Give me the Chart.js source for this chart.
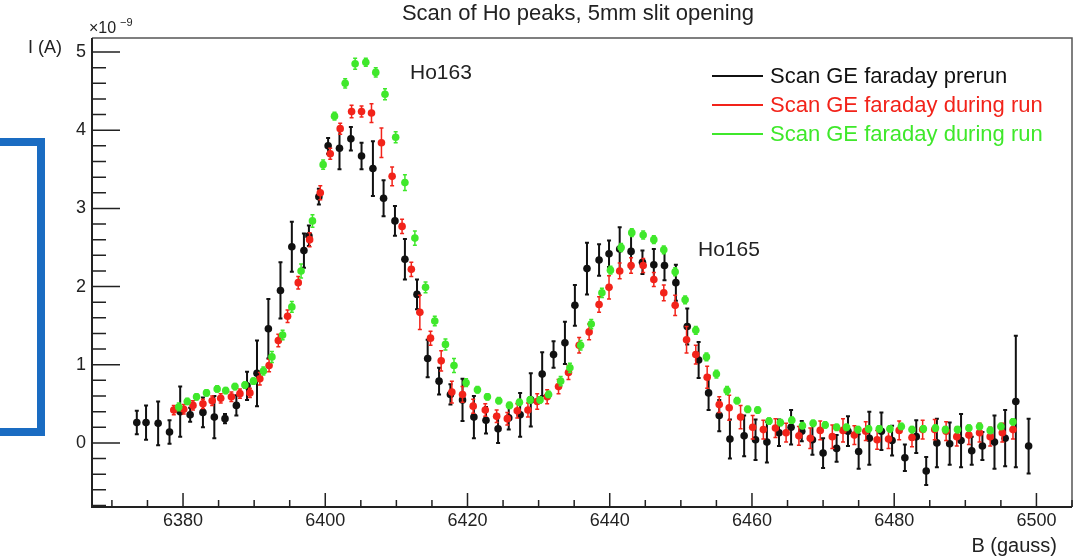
<!DOCTYPE html>
<html>
<head>
<meta charset="utf-8">
<script src="https://cdn.jsdelivr.net/npm/chart.js@4/dist/chart.umd.min.js"></script>
<style>
  html, body { margin: 0; padding: 0; background: #fff; }
</style>
</head>
<body>
<canvas id="scanChart" width="1081" height="558"></canvas>
<script>
// B field (gauss) and current (x1e-9 A)
const blackB = [6373.5, 6374.8, 6376.5, 6378.1, 6379.6, 6381.0, 6382.8, 6384.4, 6385.9, 6387.5,
  6389.0, 6390.4, 6392.0, 6393.7, 6395.3, 6397.0, 6397.7, 6399.1, 6400.4, 6402.0,
  6403.6, 6405.1, 6406.7, 6408.2, 6409.8, 6411.2, 6412.9, 6414.4, 6416.0, 6417.6,
  6419.3, 6420.9, 6422.6, 6424.3, 6425.8, 6427.4, 6428.9, 6430.5, 6432.1, 6433.7,
  6435.1, 6436.8, 6438.5, 6439.9, 6441.4, 6443.0, 6444.6, 6446.2, 6447.7, 6449.3,
  6450.9, 6452.5, 6453.9, 6455.4, 6456.9, 6458.9, 6460.5, 6462.1, 6463.8, 6465.5,
  6467.0, 6468.5, 6470.0, 6471.9, 6473.5, 6475.0, 6476.5, 6478.2, 6479.7, 6481.5,
  6483.1, 6484.5, 6486.0, 6487.8, 6489.4, 6490.9, 6492.4, 6494.1, 6495.6, 6497.1,
  6498.9];
const blackI = [0.26, 0.26, 0.25, 0.14, 0.40, 0.36, 0.39, 0.33, 0.31, 0.48,
  0.73, 0.89, 1.46, 1.95, 2.51, 2.46, 2.65, 3.15, 3.80, 3.77,
  3.89, 3.67, 3.51, 3.13, 2.84, 2.35, 1.90, 1.08, 0.79, 0.62,
  0.55, 0.33, 0.29, 0.18, 0.32, 0.36, 0.55, 0.88, 1.13, 1.28,
  1.76, 2.23, 2.34, 2.42, 2.48, 2.45, 2.31, 2.28, 2.27, 2.05,
  1.49, 1.06, 0.64, 0.35, 0.05, 0.09, 0.04, 0.01, 0.13, 0.20,
  0.15, 0.04, -0.13, -0.07, 0.15, -0.11, 0.06, 0.15, 0.03, -0.19,
  0.08, -0.36, 0.00, -0.01, 0.03, -0.10, -0.04, 0.01, 0.06, 0.53,
  -0.04];
const blackErr = [0.15, 0.22, 0.28, 0.15, 0.32, 0.09, 0.19, 0.27, 0.06, 0.13,
  0.18, 0.42, 0.38, 0.36, 0.32, 0.22, 0.13, 0.10, 0.10, 0.27,
  0.15, 0.17, 0.35, 0.23, 0.19, 0.26, 0.19, 0.24, 0.17, 0.13,
  0.27, 0.27, 0.17, 0.18, 0.15, 0.28, 0.34, 0.28, 0.17, 0.27,
  0.26, 0.33, 0.20, 0.17, 0.28, 0.22, 0.15, 0.20, 0.19, 0.23,
  0.23, 0.23, 0.22, 0.20, 0.25, 0.26, 0.26, 0.26, 0.17, 0.22,
  0.13, 0.19, 0.19, 0.17, 0.19, 0.22, 0.34, 0.24, 0.19, 0.17,
  0.21, 0.18, 0.31, 0.27, 0.34, 0.18, 0.18, 0.34, 0.36, 0.84,
  0.35];

const redB = [6378.7, 6380.1, 6381.4, 6382.8, 6384.1, 6385.3, 6386.8, 6388.0, 6389.4, 6390.8,
  6392.1, 6393.4, 6394.7, 6396.2, 6397.8, 6399.3, 6400.7, 6402.1, 6403.7, 6405.1,
  6406.5, 6407.9, 6409.4, 6410.8, 6412.1, 6413.3, 6414.8, 6416.3, 6417.8, 6419.3,
  6420.8, 6422.5, 6424.1, 6425.6, 6427.0, 6428.5, 6429.8, 6431.2, 6432.8, 6434.2,
  6435.7, 6437.1, 6438.5, 6439.9, 6441.4, 6443.0, 6444.7, 6446.2, 6447.6, 6449.2,
  6450.8, 6452.1, 6453.7, 6455.4, 6456.8, 6458.4, 6460.1, 6461.6, 6463.3, 6464.8,
  6466.6, 6468.2, 6469.6, 6471.3, 6472.8, 6474.4, 6476.0, 6477.6, 6479.2, 6480.7,
  6482.5, 6484.0, 6485.7, 6487.3, 6488.8, 6490.5, 6492.0, 6493.5, 6495.2, 6496.7];
const redI = [0.42, 0.43, 0.48, 0.50, 0.54, 0.57, 0.59, 0.63, 0.64, 0.82,
  0.99, 1.31, 1.62, 2.05, 2.60, 3.20, 3.70, 4.02, 4.24, 4.24,
  4.22, 3.84, 3.41, 2.77, 2.22, 1.67, 1.34, 1.05, 0.65, 0.62,
  0.47, 0.42, 0.34, 0.31, 0.41, 0.42, 0.53, 0.59, 0.72, 0.90,
  1.25, 1.42, 1.77, 1.99, 2.20, 2.27, 2.27, 2.09, 1.92, 1.76,
  1.32, 1.13, 0.84, 0.49, 0.45, 0.33, 0.20, 0.17, 0.19, 0.13,
  0.09, 0.06, 0.16, 0.08, 0.16, 0.10, 0.15, 0.04, 0.05, 0.16,
  0.07, 0.17, 0.17, 0.15, 0.08, 0.10, 0.13, 0.08, 0.13, 0.17];
const redErr = [0.06, 0.06, 0.06, 0.06, 0.06, 0.06, 0.06, 0.06, 0.06, 0.08,
  0.08, 0.08, 0.08, 0.08, 0.09, 0.09, 0.07, 0.07, 0.08, 0.07,
  0.12, 0.19, 0.12, 0.09, 0.09, 0.22, 0.09, 0.13, 0.14, 0.10,
  0.09, 0.08, 0.08, 0.08, 0.09, 0.09, 0.10, 0.09, 0.09, 0.09,
  0.10, 0.10, 0.10, 0.15, 0.10, 0.10, 0.09, 0.09, 0.10, 0.13,
  0.17, 0.12, 0.14, 0.10, 0.16, 0.15, 0.15, 0.12, 0.12, 0.12,
  0.12, 0.13, 0.12, 0.15, 0.15, 0.12, 0.12, 0.12, 0.12, 0.12,
  0.12, 0.12, 0.13, 0.12, 0.12, 0.12, 0.12, 0.12, 0.12, 0.12];

const greenB = [6379.4, 6380.6, 6381.9, 6383.3, 6384.8, 6386.0, 6387.3, 6388.7, 6389.9, 6391.3,
  6392.5, 6394.0, 6395.3, 6396.6, 6398.2, 6399.7, 6401.3, 6402.8, 6404.2, 6405.7,
  6407.1, 6408.4, 6409.9, 6411.2, 6412.6, 6414.1, 6415.4, 6416.9, 6418.1, 6419.8,
  6421.4, 6422.8, 6424.4, 6425.9, 6427.3, 6428.8, 6430.2, 6431.4, 6433.1, 6434.4,
  6435.9, 6437.4, 6438.9, 6440.1, 6441.6, 6443.1, 6444.7, 6446.2, 6447.6, 6449.2,
  6450.6, 6452.1, 6453.6, 6455.0, 6456.5, 6457.9, 6459.4, 6460.8, 6462.4, 6464.0,
  6465.6, 6467.1, 6468.6, 6470.3, 6471.9, 6473.3, 6474.9, 6476.4, 6477.9, 6479.4,
  6481.0, 6482.5, 6484.1, 6485.8, 6487.2, 6488.9, 6490.5, 6492.0, 6493.5, 6495.0,
  6496.7];
const greenI = [0.46, 0.53, 0.59, 0.64, 0.69, 0.67, 0.72, 0.74, 0.79, 0.92,
  1.10, 1.38, 1.74, 2.20, 2.84, 3.56, 4.18, 4.60, 4.85, 4.87,
  4.74, 4.46, 3.91, 3.33, 2.62, 1.99, 1.56, 1.26, 0.99, 0.77,
  0.68, 0.59, 0.54, 0.48, 0.52, 0.55, 0.55, 0.62, 0.79, 0.96,
  1.25, 1.52, 1.92, 2.21, 2.50, 2.69, 2.66, 2.60, 2.47, 2.19,
  1.83, 1.44, 1.10, 0.88, 0.67, 0.54, 0.43, 0.42, 0.28, 0.26,
  0.29, 0.22, 0.25, 0.23, 0.20, 0.20, 0.17, 0.18, 0.18, 0.18,
  0.21, 0.17, 0.18, 0.19, 0.17, 0.17, 0.19, 0.21, 0.16, 0.21,
  0.27];
const greenErr = [0.05, 0.04, 0.04, 0.04, 0.04, 0.04, 0.04, 0.04, 0.04, 0.05,
  0.07, 0.06, 0.07, 0.09, 0.08, 0.06, 0.05, 0.06, 0.07, 0.05,
  0.06, 0.07, 0.07, 0.10, 0.09, 0.07, 0.06, 0.07, 0.09, 0.05,
  0.04, 0.04, 0.04, 0.04, 0.04, 0.04, 0.04, 0.04, 0.06, 0.06,
  0.06, 0.06, 0.06, 0.05, 0.05, 0.05, 0.05, 0.05, 0.05, 0.05,
  0.05, 0.05, 0.05, 0.05, 0.05, 0.04, 0.04, 0.04, 0.04, 0.04,
  0.04, 0.04, 0.04, 0.04, 0.04, 0.04, 0.04, 0.04, 0.04, 0.04,
  0.04, 0.04, 0.04, 0.04, 0.04, 0.04, 0.04, 0.04, 0.04, 0.04,
  0.04];

const seriesLabels = ['Scan GE faraday prerun', 'Scan GE faraday during run', 'Scan GE faraday during run'];
const seriesColors = ['#111111', '#f2231a', '#3fe82b'];
const xTickLabels = [6380, 6400, 6420, 6440, 6460, 6480, 6500];
const yTickLabels = [0, 1, 2, 3, 4, 5];
const peakLabels = ['Ho163', 'Ho165'];

const FONT = "'Liberation Sans', Arial, Helvetica, sans-serif";

function toPoints(xs, ys) {
  return xs.map((x, i) => ({ x: x, y: ys[i] }));
}

// error bars drawn just before each dataset's markers
const errorBars = {
  id: 'errorBars',
  beforeDatasetDraw(chart, args) {
    const ds = chart.data.datasets[args.index];
    if (!ds.errors) return;
    const { ctx } = chart;
    const xs = chart.scales.x, ys = chart.scales.y;
    ctx.save();
    ctx.strokeStyle = ds.pointBackgroundColor;
    ctx.lineWidth = ds.errWidth;
    ds.data.forEach((p, i) => {
      const e = ds.errors[i];
      const px = xs.getPixelForValue(p.x);
      const top = ys.getPixelForValue(p.y + e);
      const bot = ys.getPixelForValue(p.y - e);
      ctx.beginPath();
      ctx.moveTo(px, top); ctx.lineTo(px, bot);
      ctx.moveTo(px - 2, top); ctx.lineTo(px + 2, top);
      ctx.moveTo(px - 2, bot); ctx.lineTo(px + 2, bot);
      ctx.stroke();
    });
    ctx.restore();
  }
};

// ROOT style frame with inward ticks
const rootFrame = {
  id: 'rootFrame',
  beforeDatasetsDraw(chart) {
    const { ctx, chartArea: a } = chart;
    const xs = chart.scales.x, ys = chart.scales.y;
    ctx.save();
    ctx.strokeStyle = '#555';
    ctx.lineWidth = 1.5;
    ctx.beginPath();
    ctx.moveTo(a.left, a.top); ctx.lineTo(a.right, a.top); ctx.lineTo(a.right, a.bottom);
    ctx.stroke();

    ctx.strokeStyle = '#222';
    ctx.lineWidth = 2;
    ctx.beginPath();
    ctx.moveTo(a.left, a.top); ctx.lineTo(a.left, a.bottom); ctx.lineTo(a.right, a.bottom);
    ctx.stroke();

    ctx.lineWidth = 1.5;
    ctx.beginPath();
    for (let v = 6370; v <= 6505; v += 5) {
      const px = xs.getPixelForValue(v);
      const len = xTickLabels.includes(v) ? 14 : 7;
      ctx.moveTo(px, a.bottom); ctx.lineTo(px, a.bottom - len);
    }
    for (let k = -4; k <= 25; k++) {
      const v = k / 5;
      const py = ys.getPixelForValue(v);
      const len = k % 5 === 0 ? 28 : 14;
      ctx.moveTo(a.left, py); ctx.lineTo(a.left + len, py);
    }
    ctx.stroke();
    ctx.restore();
  },
  afterDraw(chart) {
    const { ctx, chartArea: a } = chart;
    const xs = chart.scales.x, ys = chart.scales.y;
    ctx.save();
    ctx.fillStyle = '#222';
    ctx.font = '18px ' + FONT;
    ctx.textBaseline = 'middle';
    ctx.textAlign = 'center';
    xTickLabels.forEach(v => ctx.fillText(String(v), xs.getPixelForValue(v), a.bottom + 14));
    ctx.textAlign = 'right';
    yTickLabels.forEach(v => ctx.fillText(String(v), a.left - 6, ys.getPixelForValue(v)));

    // axis titles and exponent
    ctx.font = '20px ' + FONT;
    ctx.textAlign = 'right';
    ctx.fillText('B (gauss)', 1057, 546);
    ctx.font = '18px ' + FONT;
    ctx.fillText('I (A)', 62, 48);
    ctx.textAlign = 'left';
    ctx.font = '16px ' + FONT;
    ctx.fillText('\u00d710', 89, 29);
    ctx.font = '11px ' + FONT;
    ctx.fillText('\u22129', 120, 23);

    ctx.textAlign = 'center';
    ctx.font = '22px ' + FONT;
    ctx.fillText('Scan of Ho peaks, 5mm slit opening', 578, 14);

    ctx.textAlign = 'left';
    ctx.font = '21px ' + FONT;
    ctx.fillText(peakLabels[0], 410, 73);
    ctx.fillText(peakLabels[1], 698, 250);

    // legend
    const rows = [76, 105, 134];
    ctx.font = '22px ' + FONT;
    seriesLabels.forEach((lab, i) => {
      ctx.strokeStyle = seriesColors[i];
      ctx.lineWidth = 2;
      ctx.beginPath();
      ctx.moveTo(712, rows[i]); ctx.lineTo(763, rows[i]);
      ctx.stroke();
      ctx.fillStyle = seriesColors[i];
      ctx.fillText(lab, 770, rows[i] + 1);
    });

    // blue bracket annotation at the left edge
    ctx.strokeStyle = '#1a6cc2';
    ctx.lineWidth = 8;
    ctx.lineJoin = 'miter';
    ctx.beginPath();
    ctx.moveTo(0, 142); ctx.lineTo(41, 142); ctx.lineTo(41, 432); ctx.lineTo(0, 432);
    ctx.stroke();
    ctx.restore();
  }
};

const ctx = document.getElementById('scanChart').getContext('2d');
new Chart(ctx, {
  type: 'scatter',
  data: {
    datasets: [
      { label: seriesLabels[2], data: toPoints(greenB, greenI), errors: greenErr, errWidth: 1.5,
        pointBackgroundColor: seriesColors[2], pointBorderWidth: 0, pointRadius: 3.8, order: 0 },
      { label: seriesLabels[1], data: toPoints(redB, redI), errors: redErr, errWidth: 1.5,
        pointBackgroundColor: seriesColors[1], pointBorderWidth: 0, pointRadius: 3.8, order: 1 },
      { label: seriesLabels[0], data: toPoints(blackB, blackI), errors: blackErr, errWidth: 2,
        pointBackgroundColor: seriesColors[0], pointBorderWidth: 0, pointRadius: 3.8, order: 2 },
    ],
  },
  options: {
    responsive: false,
    animation: false,
    layout: { padding: { left: 92, right: 9, top: 38, bottom: 51 } },
    plugins: { legend: { display: false }, tooltip: { enabled: false } },
    scales: {
      x: { type: 'linear', min: 6367.2, max: 6505, display: false },
      y: { type: 'linear', min: -0.82, max: 5.18, display: false },
    },
  },
  plugins: [errorBars, rootFrame],
});
</script>
</body>
</html>
